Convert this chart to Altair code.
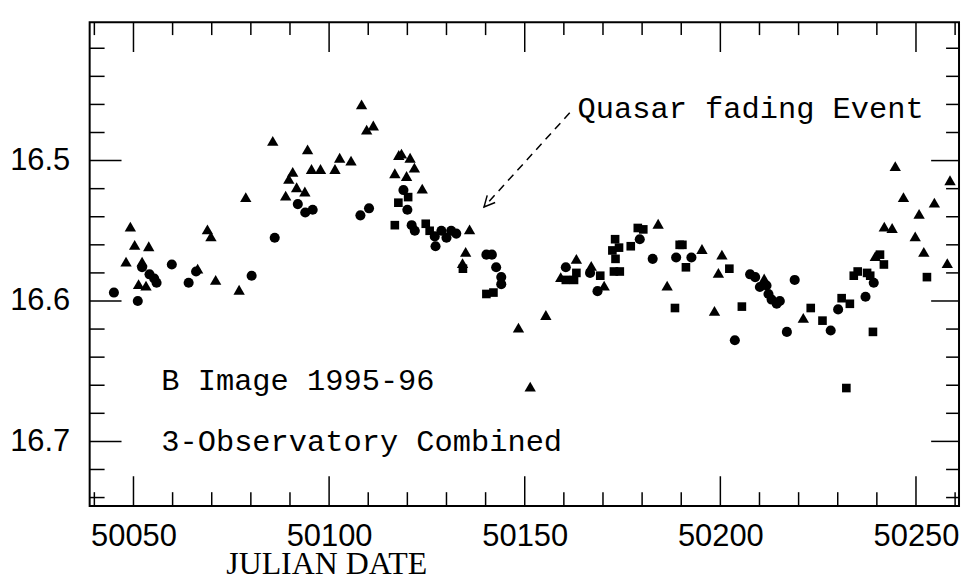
import altair as alt
import pandas as pd

# ---- data (Julian date, B magnitude) ----
tri_jd = [50048.1, 50049.2, 50050.3, 50053.9, 50052.2, 50051.3, 50053.2, 50066.4, 50068.9, 50069.8,
          50071.0, 50077.0, 50078.7, 50085.6, 50090.7, 50089.7, 50091.7, 50093.8, 50088.9, 50094.5,
          50095.5, 50097.8, 50101.5, 50102.7, 50105.6, 50108.3, 50109.6, 50111.3, 50117.8, 50118.5,
          50120.7, 50121.8, 50116.8, 50119.8, 50123.8, 50135.9, 50134.9, 50134.1, 50148.4, 50151.4,
          50155.4, 50159.2, 50163.2, 50167.0, 50170.3, 50184.1, 50186.4, 50195.3, 50200.4, 50199.5,
          50198.5, 50211.2, 50221.2, 50239.6, 50241.9, 50243.9, 50244.7, 50246.8, 50249.8, 50250.8,
          50252.0, 50254.7, 50258.0, 50258.7]
tri_mag = [16.572, 16.547, 16.560, 16.561, 16.572, 16.588, 16.589, 16.577, 16.549, 16.554,
           16.585, 16.592, 16.526, 16.486, 16.508, 16.513, 16.519, 16.522, 16.525, 16.492,
           16.506, 16.506, 16.506, 16.498, 16.500, 16.460, 16.478, 16.475, 16.496, 16.495,
           16.498, 16.505, 16.509, 16.511, 16.520, 16.549, 16.565, 16.573, 16.619, 16.661,
           16.610, 16.583, 16.570, 16.575, 16.589, 16.545, 16.589, 16.563, 16.567, 16.580,
           16.607, 16.584, 16.612, 16.568, 16.547, 16.548, 16.504, 16.526, 16.554, 16.538,
           16.565, 16.530, 16.573, 16.514]

circ_jd = [50045.0, 50051.1, 50052.2, 50054.1, 50055.3, 50055.9, 50059.8, 50064.1, 50066.0, 50080.2,
           50086.1, 50092.0, 50093.9, 50095.8, 50108.0, 50110.2, 50121.1, 50121.9, 50127.0, 50127.2,
           50128.7, 50130.0, 50131.2, 50132.5, 50140.2, 50141.6, 50142.7, 50144.0, 50144.0, 50160.5,
           50166.7, 50168.6, 50179.4, 50182.7, 50188.7, 50192.6, 50203.7, 50207.6, 50208.9, 50210.1,
           50211.8, 50212.3, 50213.1, 50214.4, 50215.2, 50219.0, 50217.0, 50228.2, 50230.1, 50237.1,
           50239.2, 50119.0, 50120.0]
circ_mag = [16.594, 16.600, 16.576, 16.581, 16.584, 16.587, 16.574, 16.587, 16.579, 16.582,
            16.555, 16.531, 16.537, 16.535, 16.539, 16.534, 16.546, 16.550, 16.554, 16.561,
            16.550, 16.555, 16.550, 16.552, 16.567, 16.567, 16.576, 16.583, 16.588, 16.576,
            16.580, 16.593, 16.556, 16.570, 16.569, 16.569, 16.628, 16.581, 16.583, 16.590,
            16.589, 16.595, 16.599, 16.602, 16.600, 16.585, 16.622, 16.621, 16.606, 16.597,
            16.587, 16.521, 16.535]

sq_jd = [50116.8, 50124.7, 50125.7, 50134.2, 50140.2, 50142.0, 50160.5, 50162.6, 50163.2, 50169.3,
         50173.1, 50172.4, 50174.1, 50173.2, 50172.8, 50174.3, 50177.1, 50178.9, 50180.3, 50189.6,
         50190.3, 50191.2, 50188.4, 50202.3, 50205.5, 50223.1, 50226.1, 50231.0, 50233.1, 50232.2,
         50239.0, 50234.1, 50235.1, 50237.5, 50238.3, 50240.8, 50241.8, 50252.8, 50117.7, 50120.2]
sq_mag = [16.546, 16.545, 16.550, 16.577, 16.595, 16.594, 16.585, 16.585, 16.580, 16.582,
          16.556, 16.564, 16.562, 16.570, 16.579, 16.579, 16.561, 16.548, 16.549, 16.560,
          16.560, 16.576, 16.605, 16.577, 16.604, 16.605, 16.614, 16.598, 16.602, 16.662,
          16.622, 16.582, 16.579, 16.580, 16.582, 16.567, 16.574, 16.583, 16.530, 16.526]

# axis ticks / labels
x_labels = [50050, 50100, 50150, 50200, 50250]
x_minor = [50040, 50060, 50070, 50080, 50090, 50110, 50120, 50130, 50140, 50160,
           50170, 50180, 50190, 50210, 50220, 50230, 50240, 50260]
y_labels = [16.5, 16.6, 16.7]
y_minor = [16.42, 16.44, 16.46, 16.48, 16.52, 16.54, 16.56, 16.58, 16.62, 16.64,
           16.66, 16.68, 16.72, 16.74]

# annotations
notes_text = ["Quasar fading Event", "B Image 1995-96", "3-Observatory Combined"]
notes_jd = [50163.5, 50057.1, 50057.1]
notes_mag = [16.470, 16.6636, 16.7069]
arrow_jd = [50161.5, 50139.6]
arrow_mag = [16.466, 16.533]

# ---- build ----
W, H = 873, 486
xs = alt.Scale(domain=[50038.8, 50261.0], nice=False, zero=False)
ys = alt.Scale(domain=[16.4014, 16.7461], nice=False, zero=False, reverse=True)

xaxis = alt.Axis(values=x_labels, format="d", ticks=False, tickSize=0, domain=False, grid=False,
                 labelFont="Liberation Sans", labelFontSize=31, labelColor="black",
                 labelBaseline="alphabetic", labelPadding=40, labelFlush=False,
                 title="JULIAN DATE", titleFont="Liberation Serif", titleFontSize=32,
                 titleFontWeight="normal", titleColor="black", titleX=237.5, titleY=68,
                 titleAlign="center", titleBaseline="alphabetic")
yaxis = alt.Axis(values=y_labels, format=".1f", ticks=False, tickSize=0, domain=False, grid=False,
                 labelFont="Liberation Sans", labelFontSize=31, labelColor="black",
                 labelPadding=20, labelFlush=False, title=None)

pts = pd.DataFrame({
    "jd": tri_jd + circ_jd + sq_jd,
    "mag": tri_mag + circ_mag + sq_mag,
    "obs": ["A"] * len(tri_jd) + ["B"] * len(circ_jd) + ["C"] * len(sq_jd),
})

X = alt.X("jd:Q", scale=xs, axis=xaxis)
Y = alt.Y("mag:Q", scale=ys, axis=yaxis)

points = alt.Chart(pts).mark_point(filled=True, color="black", opacity=1).encode(
    x=X, y=Y,
    shape=alt.Shape("obs:N", scale=alt.Scale(domain=["A", "B", "C"],
                                             range=["triangle-up", "circle", "square"]), legend=None),
    size=alt.Size("obs:N", scale=alt.Scale(domain=["A", "B", "C"], range=[130, 75, 64]), legend=None),
)

xt_major = pd.DataFrame({"jd": x_labels})
xt_minor = pd.DataFrame({"jd": x_minor})
yt_major = pd.DataFrame({"mag": y_labels})
yt_minor = pd.DataFrame({"mag": y_minor})

def xticks(df, y0, y1):
    return alt.Chart(df).mark_rule(color="black", strokeWidth=1.5).encode(
        x=X, y=alt.value(y0), y2=alt.value(y1))

def yticks(df, x0, x1):
    return alt.Chart(df).mark_rule(color="black", strokeWidth=1.5).encode(
        y=Y, x=alt.value(x0), x2=alt.value(x1))

ticks = [
    xticks(xt_major, H, H - 30), xticks(xt_minor, H, H - 14),
    xticks(xt_major, 0, 30), xticks(xt_minor, 0, 13),
    yticks(yt_major, 0, 32), yticks(yt_minor, 0, 15),
    yticks(yt_major, W, W - 28), yticks(yt_minor, W, W - 13),
]

notes = alt.Chart(pd.DataFrame({"jd": notes_jd, "mag": notes_mag, "t": notes_text})).mark_text(
    font="Liberation Mono", fontSize=30.5, align="left", baseline="alphabetic", color="black"
).encode(x=X, y=Y, text="t:N")

arrow_df = pd.DataFrame({"jd": arrow_jd, "mag": arrow_mag, "o": [0, 1]})
arrow_line = alt.Chart(arrow_df).mark_line(color="black", strokeWidth=1.5, strokeDash=[8, 6]).encode(
    x=X, y=Y, order="o:Q")
arrow_head = alt.Chart(arrow_df.iloc[[1]]).mark_point(
    shape="M-0.5,-1L0,0L0.5,-1", filled=False, color="black", strokeWidth=1.5, angle=42, size=460,
    opacity=1).encode(x=X, y=Y)

chart = alt.layer(*ticks, arrow_line, arrow_head, points, notes).properties(
    width=W, height=H,
    autosize=alt.AutoSizeParams(type="none"),
    padding={"left": 82, "top": 13, "right": 5, "bottom": 76},
    background="white",
).configure_view(stroke="black", strokeWidth=2)

chart.save("out.html", embed_options={"renderer": "svg", "actions": False})
